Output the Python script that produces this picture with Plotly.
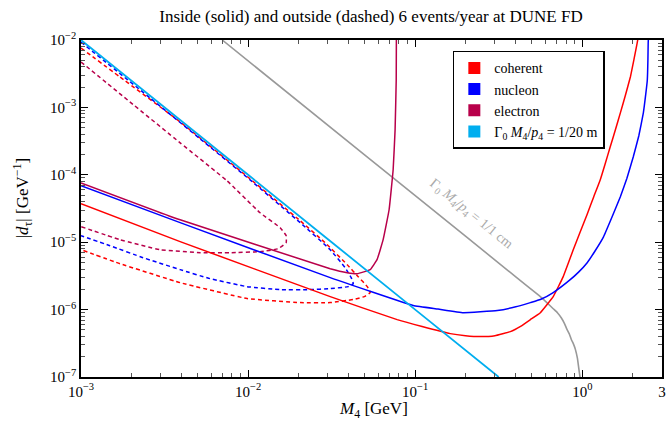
import plotly.graph_objects as go

# ---------------- data ----------------
# Gamma0 M4/p4 = 1/20 m  (cyan)
cyan_M = [1e-3, 1e-2, 1e-1, 0.316]
cyan_d = [1e-2, 1e-4, 1e-6, 1e-7]

# Gamma0 M4/p4 = 1/1 cm  (gray)
gray_M = [0.007, 0.05, 0.2, 0.4, 0.55, 0.62, 0.67, 0.71, 0.75, 0.78, 0.81, 0.835, 0.86,
          0.885, 0.91, 0.935, 0.96, 0.97, 0.98, 0.995]
gray_d = [1e-2, 1.96e-4, 1.23e-5, 3.06e-6, 1.62e-6, 1.24e-6, 1.03e-6, 9.0e-7, 7.5e-7, 6.3e-7,
          5.1e-7, 4.4e-7, 3.6e-7, 3.1e-7, 2.55e-7, 1.9e-7, 1.17e-7, 9.8e-8, 8e-8, 4e-8]

# coherent, inside (solid)
coh_M = [1e-3, 3.92e-3, 0.031, 0.078, 0.11, 0.162, 0.2, 0.245, 0.3, 0.371, 0.43, 0.489, 0.561,
         0.670, 0.72, 0.769, 0.82, 0.883, 0.97, 1.07, 1.17, 1.28, 1.37, 1.47, 1.58, 1.69,
         1.81, 1.94, 2.04, 2.13, 2.2]
coh_d = [3.72e-5, 1.02e-5, 1.56e-6, 7.1e-7, 5.6e-7, 4.4e-7, 4.1e-7, 3.98e-7, 4.1e-7, 4.72e-7,
         5.7e-7, 7.1e-7, 9.0e-7, 1.56e-6, 2.2e-6, 3.08e-6, 4.7e-6, 7.7e-6, 1.4e-5, 2.6e-5,
         4.7e-5, 8.4e-5, 1.45e-4, 2.6e-4, 4.7e-4, 8.3e-4, 1.5e-3, 2.83e-3, 5.2e-3, 9.0e-3, 1.4e-2]

# nucleon, inside (solid)
nuc_M = [1e-3, 3.92e-3, 0.031, 0.0973, 0.137, 0.194, 0.31, 0.4, 0.489, 0.561, 0.670, 0.847,
         0.95, 1.07, 1.2, 1.34, 1.5, 1.69, 1.85, 2.02, 2.18, 2.32, 2.4, 2.45, 2.47, 2.48, 2.50]
nuc_d = [6.87e-5, 1.95e-5, 2.98e-6, 1.15e-6, 1.02e-6, 9.0e-7, 9.7e-7, 1.1e-6, 1.27e-6, 1.41e-6,
         1.79e-6, 2.78e-6, 3.6e-6, 4.97e-6, 7.6e-6, 1.2e-5, 2.3e-5, 4.72e-5, 8.9e-5, 1.85e-4,
         3.8e-4, 8.3e-4, 1.6e-3, 2.55e-3, 5e-3, 9.0e-3, 1.5e-2]

# electron, inside (solid)
ele_M = [1e-3, 3.92e-3, 0.031, 0.0392, 0.045, 0.0538, 0.0591, 0.0643, 0.0698, 0.0738,
         0.0758, 0.077, 0.0772]
ele_d = [7.6e-5, 2.15e-5, 4.05e-6, 3.53e-6, 3.41e-6, 3.92e-6, 5.5e-6, 1.09e-5, 3.03e-5, 1.19e-4,
         4.6e-4, 2.55e-3, 1.4e-2]

# coherent, outside (dashed) - closed loop
cohd_M = [1e-3, 1.71e-3, 3.92e-3, 0.01028, 0.0205, 0.0289, 0.0392, 0.0456, 0.0517, 0.0538,
          0.0496, 0.0426, 0.031, 0.0205, 9.86e-3, 3.92e-3, 1.71e-3, 1e-3]
cohd_d = [7.6e-3, 2.83e-3, 6.1e-4, 8.7e-5, 2.08e-5, 9.84e-6, 4.64e-6, 3.08e-6, 2.19e-6, 1.79e-6,
          1.56e-6, 1.41e-6, 1.27e-6, 1.27e-6, 1.46e-6, 2.51e-6, 4.8e-6, 7.74e-6]

# nucleon, outside (dashed)
nucd_M = [1e-3, 2.59e-3, 5.17e-3, 0.01028, 0.0205, 0.031, 0.0381, 0.0414, 0.0426, 0.0397,
          0.031, 0.0235, 0.01556, 9.86e-3, 5.91e-3, 3.92e-3, 2.35e-3, 1.49e-3, 1e-3]
nucd_d = [9.3e-3, 1.38e-3, 3.41e-4, 8.4e-5, 1.95e-5, 7.74e-6, 4.19e-6, 2.98e-6, 2.43e-6, 2.19e-6,
          2.05e-6, 1.98e-6, 1.98e-6, 2.19e-6, 2.88e-6, 3.92e-6, 5.89e-6, 8.87e-6, 1.25e-5]

# electron, outside (dashed)
eled_M = [1e-3, 1.96e-3, 3.92e-3, 7.48e-3, 0.0118, 0.01556, 0.0169, 0.0169, 0.01514, 0.0118,
          7.8e-3, 5.17e-3, 2.97e-3, 1.71e-3, 1e-3]
eled_d = [4.72e-3, 1.21e-3, 2.98e-4, 8.15e-5, 2.73e-5, 1.64e-5, 1.25e-5, 9.84e-6, 8.0e-6, 7.23e-6,
          6.98e-6, 6.98e-6, 7.74e-6, 1.09e-5, 1.7e-5]

x_tickvals = [1e-3, 1e-2, 1e-1, 1, 3]
x_ticktext = ["10<sup>−3</sup>", "10<sup>−2</sup>", "10<sup>−1</sup>", "10<sup>0</sup>", "3"]
y_tickvals = [1e-7, 1e-6, 1e-5, 1e-4, 1e-3, 1e-2]
y_ticktext = ["10<sup>−7</sup>", "10<sup>−6</sup>", "10<sup>−5</sup>", "10<sup>−4</sup>",
              "10<sup>−3</sup>", "10<sup>−2</sup>"]

legend_names = ["coherent", "nucleon", "electron",
                "Γ<sub>0</sub> <i>M</i><sub>4</sub>/<i>p</i><sub>4</sub> = 1/20 m"]

# ---------------- styling ----------------
RED = "#FF0000"
BLUE = "#0000FF"
ELEC = "#B8004A"
CYAN = "#00AEEF"
GRAY = "#999999"
FONT = "Liberation Serif"
DASH = "4px,3px"

fig = go.Figure()

def line(x, y, color, dash="solid", width=1.5):
    fig.add_trace(go.Scatter(x=x, y=y, mode="lines", showlegend=False, hoverinfo="skip",
                             line=dict(color=color, width=width, dash=dash, shape="spline",
                                       smoothing=0.3)))

line(gray_M, gray_d, GRAY, width=1.6)
line(cohd_M, cohd_d, RED, DASH)
line(nucd_M, nucd_d, BLUE, DASH)
line(eled_M, eled_d, ELEC, DASH)
line(coh_M, coh_d, RED)
line(nuc_M, nuc_d, BLUE)
line(ele_M, ele_d, ELEC)
line(cyan_M, cyan_d, CYAN, width=1.8)

for name, col in zip(legend_names, [RED, BLUE, ELEC, CYAN]):
    fig.add_trace(go.Scatter(x=[None], y=[None], mode="markers", name=name,
                             marker=dict(symbol="square", size=11, color=col)))

def minor_vals(lo, hi):
    vals = []
    for e in range(lo, hi):
        for m in range(2, 10):
            vals.append(m * 10.0 ** e)
    return vals

axis_common = dict(type="log", showgrid=False, zeroline=False, showline=True, linecolor="black",
                   linewidth=1.5, mirror="allticks", ticks="inside", ticklen=7, tickwidth=1,
                   tickcolor="black", tickmode="array", automargin=False,
                   tickfont=dict(family=FONT, size=15, color="black"))

fig.update_xaxes(range=[-3, 0.4771], tickvals=x_tickvals, ticktext=x_ticktext,
                 minor=dict(ticks="inside", ticklen=4, tickcolor="#555555", tickmode="array",
                            tickvals=minor_vals(-3, 1), showgrid=False),
                 **axis_common)
fig.update_yaxes(range=[-7, -2], tickvals=y_tickvals, ticktext=y_ticktext,
                 minor=dict(ticks="inside", ticklen=4, tickcolor="#555555", tickmode="array",
                            tickvals=minor_vals(-7, -2), showgrid=False),
                 **axis_common)

# axis titles
fig.add_annotation(text="<i>M</i><sub>4</sub> [GeV]", xref="paper", yref="paper",
                   x=0.503, y=-0.098, xanchor="center", yanchor="middle", showarrow=False,
                   font=dict(family=FONT, size=17, color="black"))
fig.add_annotation(text="|<i>d</i><sub>τ</sub>| [GeV<sup>−1</sup>]", xref="paper", yref="paper",
                   x=-0.101, y=0.531, xanchor="center", yanchor="middle", showarrow=False,
                   textangle=-90, font=dict(family=FONT, size=17, color="black"))

fig.add_annotation(text="Γ<sub>0</sub> <i>M</i><sub>4</sub>/<i>p</i><sub>4</sub> = 1/1 cm",
                   xref="paper", yref="paper", x=0.672, y=0.483, showarrow=False,
                   xanchor="center", yanchor="middle",
                   textangle=39, font=dict(family=FONT, size=14, color="#AAAAAA"))

fig.update_layout(
    width=666, height=422,
    margin=dict(l=81, r=4, t=40, b=45),
    paper_bgcolor="white", plot_bgcolor="white",
    title=dict(text="Inside (solid) and outside (dashed) 6 events/year at DUNE FD",
               x=0.557, xanchor="center", y=0.963, yanchor="middle",
               font=dict(family=FONT, size=17, color="black")),
    legend=dict(x=0.64, y=0.968, xanchor="left", yanchor="top", bgcolor="white",
                bordercolor="black", borderwidth=1.5, itemsizing="constant",
                font=dict(family=FONT, size=14, color="black"), tracegroupgap=0,
                itemwidth=30),
    font=dict(family=FONT),
)

fig.write_html("out.html", config={"displayModeBar": False},
               post_script="document.body.style.margin='0';document.body.style.padding='0';")
